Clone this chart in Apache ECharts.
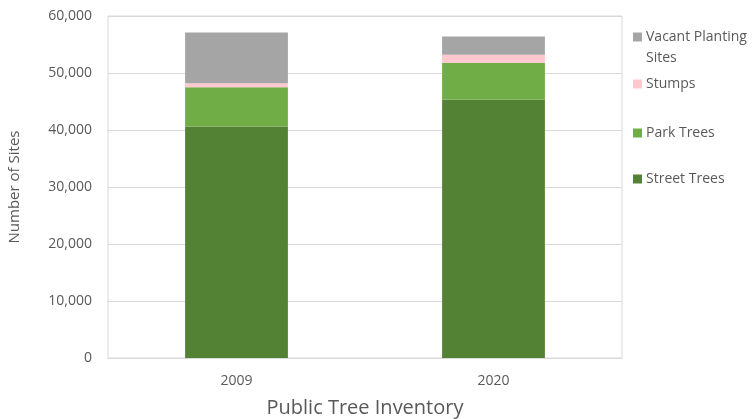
<!DOCTYPE html>
<html>
<head>
<meta charset="utf-8">
<script src="https://cdn.jsdelivr.net/npm/echarts@6/dist/echarts.min.js"></script>
<style>html,body{margin:0;padding:0;background:#fff}#c{width:752px;height:419px}</style>
</head>
<body>
<div id="c"></div>
<script>
var categories = ['2009', '2020'];
var streetTrees = [40600, 45300];
var parkTrees = [6900, 6500];
var stumps = [700, 1400];
var vacantSites = [8900, 3200];
var yTicks = [0, 10000, 20000, 30000, 40000, 50000, 60000];

var font = 'Open Sans';
var txt = '#595959';
var chart = echarts.init(document.getElementById('c'));

function legendItem(name, top, label) {
  return {
    data: [name], left: 628, top: top, orient: 'vertical',
    itemWidth: 9, itemHeight: 9, itemGap: 0, icon: 'rect',
    formatter: function () { return label; },
    textStyle: { fontFamily: font, fontSize: 14, color: txt, padding: [0, 0, 0, -1] }
  };
}

chart.setOption({
  animation: false,
  grid: { left: 108, right: 130, top: 16, bottom: 61, show: true, borderColor: '#D9D9D9', borderWidth: 1, outerBoundsMode: 'none', containLabel: false },
  legend: [
    legendItem('Vacant Planting Sites', 25, 'Vacant Planting'),
    legendItem('Stumps', 72, 'Stumps'),
    legendItem('Park Trees', 121, 'Park Trees'),
    legendItem('Street Trees', 167, 'Street Trees')
  ],
  graphic: [{
    type: 'text', left: 646, top: 51,
    style: { text: 'Sites', fontFamily: font, fontSize: 14, fill: txt }
  }],
  xAxis: {
    type: 'category', data: categories,
    name: 'Public Tree Inventory', nameLocation: 'middle', nameGap: 40,
    nameTextStyle: { fontFamily: font, fontSize: 20, color: txt },
    axisLine: { show: true, lineStyle: { color: '#D9D9D9' } },
    axisTick: { show: false },
    axisLabel: { fontFamily: font, fontSize: 14, color: txt, margin: 16 }
  },
  yAxis: {
    type: 'value', min: yTicks[0], max: yTicks[yTicks.length - 1], interval: 10000,
    name: 'Number of Sites', nameLocation: 'middle', nameGap: 86, nameRotate: 90,
    nameTextStyle: { fontFamily: font, fontSize: 15, color: txt },
    axisLine: { show: false }, axisTick: { show: false },
    splitLine: { lineStyle: { color: '#D9D9D9' } },
    axisLabel: {
      fontFamily: font, fontSize: 14, color: txt, margin: 16,
      formatter: function (v) { return v.toLocaleString('en-US'); }
    }
  },
  series: [
    { name: 'Street Trees', type: 'bar', stack: 's', data: streetTrees, barWidth: '40%', itemStyle: { color: '#548235' } },
    { name: 'Park Trees', type: 'bar', stack: 's', data: parkTrees, itemStyle: { color: '#70AD47' } },
    { name: 'Stumps', type: 'bar', stack: 's', data: stumps, itemStyle: { color: '#FFC7CE' } },
    { name: 'Vacant Planting Sites', type: 'bar', stack: 's', data: vacantSites, itemStyle: { color: '#A5A5A5' } }
  ]
});
</script>
</body>
</html>
